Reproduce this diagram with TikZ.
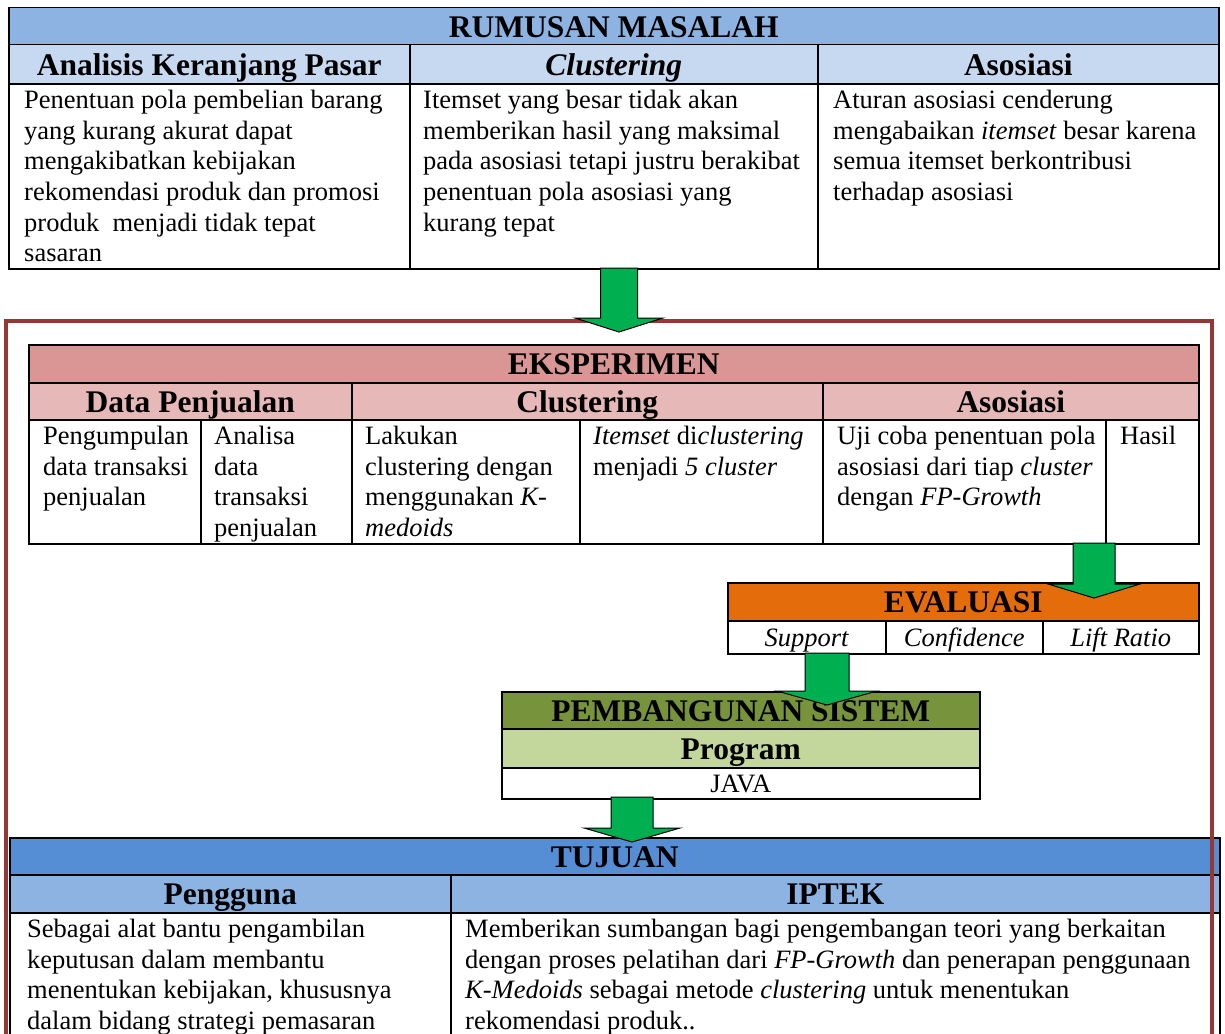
\documentclass[tikz,border=0pt]{standalone}
\usepackage{fontspec}
\setmainfont{Liberation Serif}
\usetikzlibrary{calc}

\definecolor{rmtitle}{RGB}{141,179,226}
\definecolor{rmhead}{RGB}{198,217,241}
\definecolor{extitle}{RGB}{217,150,148}
\definecolor{exhead}{RGB}{230,184,183}
\definecolor{evtitle}{RGB}{228,108,10}
\definecolor{pbtitle}{RGB}{119,147,60}
\definecolor{pbhead}{RGB}{195,214,155}
\definecolor{tjtitle}{RGB}{85,142,213}
\definecolor{tjhead}{RGB}{141,179,226}
\definecolor{arrowgreen}{RGB}{0,176,80}
\definecolor{framered}{RGB}{149,55,53}

\newcommand{\bodysize}{\fontsize{26.5}{30.6}\selectfont}
\newcommand{\headsize}{\fontsize{31.5}{36}\selectfont\bfseries}

% block arrow: start, tip, half shaft width, half head width
\newcommand{\flowarrow}[4]{%
  \draw[flowarrow] let \p1=(#1), \p2=(#2) in
    (\x1-#3pt,\y1) -- (\x1+#3pt,\y1) -- (\x1+#3pt,\y2+14pt) -- (\x1+#4pt,\y2+14pt)
    -- (\x2,\y2) -- (\x1-#4pt,\y2+14pt) -- (\x1-#3pt,\y2+14pt) -- cycle;}

\begin{document}
\begin{tikzpicture}[
    x=1pt, y=-1pt,
    cell/.style={draw, line width=1.5pt, rectangle, anchor=north west, inner sep=0pt},
    headcell/.style={cell, font=\headsize, text height=22pt, text depth=0pt},
    bodycell/.style={cell, fill=white},
    bodytext/.style={anchor=north west, inner sep=0pt, align=left, font=\bodysize},
    metriccell/.style={cell, fill=white, font=\bodysize, text height=18pt, text depth=0pt},
    flowarrow/.style={draw=black, line width=1pt, fill=arrowgreen},
    frame/.style={draw=framered, line width=4pt}
]
\useasboundingbox (0,0) rectangle (1225,1033);
\clip (0,0) rectangle (1225,1033);
\fill[white] (0,0) rectangle (1225,1033);

% Rumusan masalah
\node[headcell, fill=rmtitle, minimum width=1210pt, minimum height=37pt] (rm-title) at (8,7) {RUMUSAN MASALAH};
\node[headcell, fill=rmhead, minimum width=401pt, minimum height=39pt] (rm-h1) at (8,44) {Analisis Keranjang Pasar};
\node[headcell, fill=rmhead, minimum width=408pt, minimum height=39pt] (rm-h2) at (409,44) {\textit{Clustering}};
\node[headcell, fill=rmhead, minimum width=401pt, minimum height=39pt] (rm-h3) at (817,44) {Asosiasi};
\foreach \n/\x/\w in {rm-b1/8/401, rm-b2/409/408, rm-b3/817/401}
    \node[bodycell, minimum width=\w pt, minimum height=185pt] (\n) at (\x,83) {};

\node[bodytext] (rm-t1) at ($(rm-b1.north west)+(16,4)$) {\strut Penentuan pola pembelian barang\\
    yang kurang akurat dapat\\ mengakibatkan kebijakan\\ rekomendasi produk dan promosi\\
    produk~ menjadi tidak tepat\\ sasaran};
\node[bodytext] (rm-t2) at ($(rm-b2.north west)+(14,4)$) {\strut Itemset yang besar tidak akan\\
    memberikan hasil yang maksimal\\ pada asosiasi tetapi justru berakibat\\
    penentuan pola asosiasi yang\\ kurang tepat};
\node[bodytext] (rm-t3) at ($(rm-b3.north west)+(16,4)$) {\strut Aturan asosiasi cenderung\\
    mengabaikan \textit{itemset} besar karena\\ semua itemset berkontribusi\\ terhadap asosiasi};

% Eksperimen
\node[headcell, fill=extitle, minimum width=1170pt, minimum height=38pt] (ex-title) at (28,344) {EKSPERIMEN};
\node[headcell, fill=exhead, minimum width=323pt, minimum height=37pt] (ex-h1) at (28,382) {Data Penjualan};
\node[headcell, fill=exhead, minimum width=471pt, minimum height=37pt] (ex-h2) at (351,382) {Clustering};
\node[headcell, fill=exhead, minimum width=376pt, minimum height=37pt] (ex-h3) at (822,382) {Asosiasi};
\foreach \n/\x/\w in {ex-b1/28/172, ex-b2/200/151, ex-b3/351/228, ex-b4/579/243, ex-b5/822/283, ex-b6/1105/93}
    \node[bodycell, minimum width=\w pt, minimum height=124pt] (\n) at (\x,419) {};

\node[bodytext] (ex-t1) at ($(ex-b1.north west)+(15,4)$) {\strut Pengumpulan\\ data transaksi\\ penjualan};
\node[bodytext] (ex-t2) at ($(ex-b2.north west)+(14,4)$) {\strut Analisa\\ data\\ transaksi\\ penjualan};
\node[bodytext] (ex-t3) at ($(ex-b3.north west)+(14,4)$) {\strut Lakukan\\ clustering dengan\\
    menggunakan \textit{K-}\\ \textit{medoids}};
\node[bodytext] (ex-t4) at ($(ex-b4.north west)+(14,4)$) {\strut\textit{Itemset} di\textit{clustering}\\
    menjadi \textit{5 cluster}};
\node[bodytext] (ex-t5) at ($(ex-b5.north west)+(15,4)$) {\strut Uji coba penentuan pola\\
    asosiasi dari tiap \textit{cluster}\\ dengan \textit{FP-Growth}};
\node[bodytext] (ex-t6) at ($(ex-b6.north west)+(15,4)$) {\strut Hasil};

% Evaluasi
\node[headcell, fill=evtitle, minimum width=471pt, minimum height=38pt] (ev-title) at (727,582) {EVALUASI};
\node[metriccell, minimum width=158pt, minimum height=33pt] (ev-support) at (727,620) {\textit{Support}};
\node[metriccell, minimum width=157pt, minimum height=33pt] (ev-conf) at (885,620) {\textit{Confidence}};
\node[metriccell, minimum width=156pt, minimum height=33pt] (ev-lift) at (1042,620) {\textit{Lift Ratio}};

% Pembangunan sistem
\node[headcell, fill=pbtitle, minimum width=478pt, minimum height=37pt] (pb-title) at (501,691) {PEMBANGUNAN SISTEM};
\node[headcell, fill=pbhead, minimum width=478pt, minimum height=39pt] (pb-prog) at (501,728) {Program};
\node[metriccell, minimum width=478pt, minimum height=31pt] (pb-java) at (501,767) {JAVA};

% Tujuan
\node[headcell, fill=tjtitle, minimum width=1210pt, minimum height=37pt] (tj-title) at (9,837) {TUJUAN};
\node[headcell, fill=tjhead, minimum width=441pt, minimum height=38pt] (tj-h1) at (9,874) {Pengguna};
\node[headcell, fill=tjhead, minimum width=769pt, minimum height=38pt] (tj-h2) at (450,874) {IPTEK};
\foreach \n/\x/\w in {tj-b1/9/441, tj-b2/450/769}
    \node[bodycell, minimum width=\w pt, minimum height=150pt] (\n) at (\x,912) {};

\node[bodytext] (tj-t1) at ($(tj-b1.north west)+(18,4)$) {\strut Sebagai alat bantu pengambilan\\
    keputusan dalam membantu\\ menentukan kebijakan, khususnya\\ dalam bidang strategi pemasaran};
\node[bodytext] (tj-t2) at ($(tj-b2.north west)+(15,4)$) {\strut Memberikan sumbangan bagi pengembangan teori yang berkaitan\\
    dengan proses pelatihan dari \textit{FP-Growth} dan penerapan penggunaan\\
    \textit{K-Medoids} sebagai metode \textit{clustering} untuk menentukan\\ rekomendasi produk..};

% Bingkai
\draw[frame] (6,321) rectangle (1212,1060);

% Panah
\coordinate (a1-top) at (619,268);  \coordinate (a1-tip) at (619,332);
\coordinate (a2-top) at (1094,543); \coordinate (a2-tip) at (1094,598);
\coordinate (a3-top) at (827,653);  \coordinate (a3-tip) at (827,705);
\coordinate (a4-top) at (632,797);  \coordinate (a4-tip) at (632,842);
\foreach \s/\e/\w/\h in {a1-top/a1-tip/18.5/44, a2-top/a2-tip/21/46, a3-top/a3-tip/22/50, a4-top/a4-tip/21/48}
    \flowarrow{\s}{\e}{\w}{\h};

\end{tikzpicture}
\end{document}
